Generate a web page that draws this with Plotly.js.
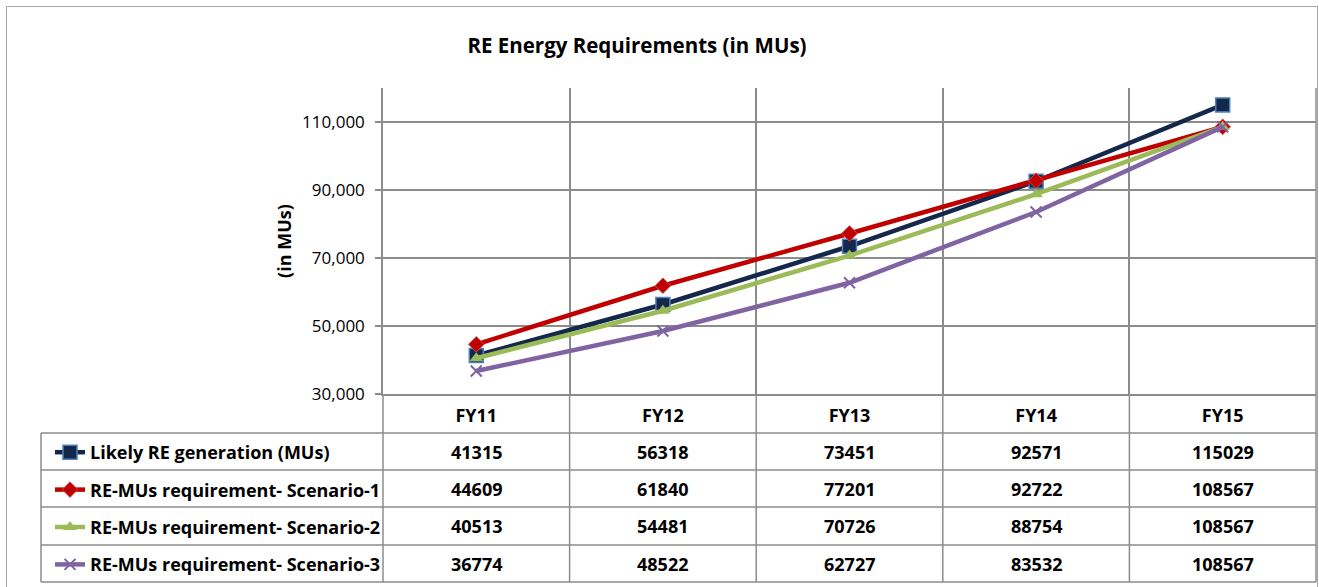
<!DOCTYPE html>
<html>
<head>
<meta charset="utf-8">
<script src="https://cdn.plot.ly/plotly-3.0.1.min.js"></script>
<style>html,body{margin:0;padding:0;background:#fff;}#chart{width:1319px;height:587px;}</style>
</head>
<body>
<div id="chart"></div>
<script>
// ---- data ----
const categories = ['FY11', 'FY12', 'FY13', 'FY14', 'FY15'];
const seriesNames = [
  'Likely RE generation (MUs)',
  'RE-MUs requirement- Scenario-1',
  'RE-MUs requirement- Scenario-2',
  'RE-MUs requirement- Scenario-3'
];
const likelyGeneration = [41315, 56318, 73451, 92571, 115029];
const scenario1 = [44609, 61840, 77201, 92722, 108567];
const scenario2 = [40513, 54481, 70726, 88754, 108567];
const scenario3 = [36774, 48522, 62727, 83532, 108567];
const yTickValues = [30000, 50000, 70000, 90000, 110000];

// ---- geometry (pixels) ----
const W = 1319, H = 587;
const L = 383, R = 1316, T = 88, B = 394;
const pw = R - L, ph = B - T;
const px = v => (v - L) / pw;
const py = v => (B - v) / ph;
const rowLines = [433, 470, 507, 545, 582];
const rowCenters = [451.5, 488.5, 526, 563.5];
const FONT = 'Open Sans, Arial, sans-serif';
const gridColor = '#8c8c8c';

const seriesValues = [likelyGeneration, scenario1, scenario2, scenario3];
const styles = [
  {line: {color: '#14284B', width: 4.5}, marker: {symbol: 'square', size: 14, color: '#14284B', line: {color: '#4F81BD', width: 1.5}}},
  {line: {color: '#C00000', width: 4.5}, marker: {symbol: 'diamond', size: 12, color: '#C00000', line: {color: '#C0504D', width: 1}}},
  {line: {color: '#9BBB59', width: 4.5}, marker: {symbol: 'triangle-up', size: 12, color: '#9BBB59', line: {width: 0}}},
  {line: {color: '#8064A2', width: 4.5}, marker: {symbol: 'x-thin-open', size: 11, color: '#8064A2', line: {color: '#8064A2', width: 2}}}
];

const traces = seriesValues.map((vals, i) => ({
  type: 'scatter',
  mode: 'lines+markers',
  x: categories,
  y: vals,
  name: seriesNames[i],
  legendgroup: 'g' + i,
  line: styles[i].line,
  marker: styles[i].marker,
  hoverinfo: 'x+y+name'
}));

// ---- table shapes ----
const shapes = [];
const lineStyle = {color: gridColor, width: 1.5};
rowLines.forEach(yv => shapes.push({type: 'line', xref: 'paper', yref: 'paper',
  x0: px(41), x1: px(R), y0: py(yv), y1: py(yv), line: lineStyle}));
shapes.push({type: 'line', xref: 'paper', yref: 'paper', x0: px(41), x1: px(41),
  y0: py(rowLines[0]), y1: py(rowLines[rowLines.length - 1]), line: lineStyle});
for (let k = 0; k <= categories.length; k++) {
  const xb = k / categories.length;
  shapes.push({type: 'line', xref: 'paper', yref: 'paper', x0: xb, x1: xb,
    y0: k === categories.length ? 1 : 0, y1: py(rowLines[rowLines.length - 1]), line: lineStyle});
}
shapes.push({type: 'rect', xref: 'paper', yref: 'paper',
  x0: px(6.5), x1: px(1317.5), y0: py(640), y1: py(6.5),
  line: {color: '#a6a6a6', width: 1}, fillcolor: 'rgba(0,0,0,0)'});

// ---- table values ----
const annotations = [];
seriesValues.forEach((vals, i) => {
  vals.forEach((v, j) => {
    annotations.push({xref: 'x', yref: 'paper', x: categories[j], y: py(rowCenters[i]),
      text: String(v), showarrow: false, xanchor: 'center', yanchor: 'middle',
      font: {family: FONT, size: 18, color: '#000', weight: 'bold'}});
  });
});

const layout = {
  width: W, height: H,
  margin: {l: L, r: W - R, t: T, b: H - B, pad: 0},
  paper_bgcolor: '#fff', plot_bgcolor: '#fff',
  font: {family: FONT, size: 17, color: '#000'},
  title: {text: 'RE Energy Requirements (in MUs)', xref: 'container', yref: 'container',
    x: 637 / W, y: 1 - 46 / H, xanchor: 'center', yanchor: 'middle',
    font: {family: FONT, size: 20.5, color: '#000', weight: 'bold'}},
  xaxis: {
    type: 'category', categoryarray: categories, range: [-0.5, categories.length - 0.5],
    tickson: 'boundaries', showgrid: true, gridcolor: gridColor, gridwidth: 1.5,
    showline: true, linecolor: gridColor, linewidth: 1.5, ticks: '',
    tickfont: {family: FONT, size: 18, color: '#000', weight: 'bold'},
    ticklabelstandoff: 5, fixedrange: true, zeroline: false
  },
  yaxis: {
    range: [30000, 120000], tickvals: yTickValues, tickformat: ',d',
    showgrid: true, gridcolor: gridColor, gridwidth: 1.5,
    showline: true, linecolor: gridColor, linewidth: 1.5,
    ticks: 'outside', ticklen: 6, tickcolor: gridColor, tickwidth: 1.5,
    tickfont: {family: FONT, size: 17, color: '#000'},
    ticklabelstandoff: 7,
    zeroline: false, fixedrange: true,
    title: {text: '(in MUs)', standoff: 6, font: {family: FONT, size: 18, color: '#000', weight: 'bold'}}
  },
  showlegend: true,
  legend: {
    x: px(50), y: py(434), xanchor: 'left', yanchor: 'top',
    orientation: 'v', tracegroupgap: 11, bgcolor: 'rgba(0,0,0,0)', borderwidth: 0,
    font: {family: FONT, size: 18, color: '#000', weight: 'bold'}, itemclick: false, itemdoubleclick: false
  },
  shapes: shapes,
  annotations: annotations,
  hovermode: 'closest'
};

Plotly.newPlot('chart', traces, layout, {displayModeBar: false});
</script>
</body>
</html>
